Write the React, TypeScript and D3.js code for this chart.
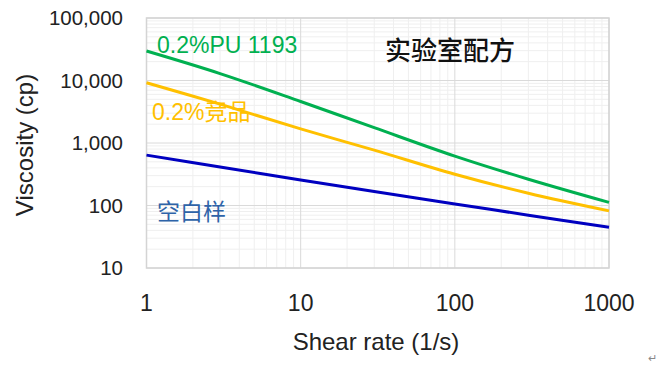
import React from "react";
import * as d3 from "d3";

// values (log–log chart)
const shearRates = [1, 3, 10, 30, 100, 300, 1000];
const pu1193 = [29600, 12900, 4620, 1760, 617, 263, 112];
const competitor = [9200, 4180, 1680, 770, 316, 157, 82];
const blank = [640, 412, 256, 167, 106, 70, 45];

const xTicks = [1, 10, 100, 1000];
const yTicks = [10, 100, 1000, 10000, 100000];

const seriesList = [
  { name: "0.2%PU 1193", values: pu1193, color: "#00b050", labelColor: "#00b050", lx: 157, ly: 53 },
  { name: "0.2%竞品", values: competitor, color: "#ffc000", labelColor: "#ffc000", lx: 152, ly: 120 },
  { name: "空白样", values: blank, color: "#0000c0", labelColor: "#2e63a8", lx: 157, ly: 220 },
];

const FONT = "'Liberation Sans', 'Noto Sans CJK SC', sans-serif";

const App = () => {
  const width = 666;
  const height = 369;
  const left = 146.5;
  const right = 609;
  const top = 18;
  const bottom = 268;

  const x = d3.scaleLog().domain([1, 1000]).range([left, right]);
  const y = d3.scaleLog().domain([10, 100000]).range([bottom, top]);

  // minor grid values 2..9 per decade
  const minorX: number[] = [];
  for (let d = 1; d < 1000; d *= 10) for (let k = 2; k <= 9; k++) minorX.push(d * k);
  const minorY: number[] = [];
  for (let d = 10; d < 100000; d *= 10) for (let k = 2; k <= 9; k++) minorY.push(d * k);

  const line = d3
    .line<number>()
    .x((_, i) => x(shearRates[i]))
    .y((d) => y(d))
    .curve(d3.curveCatmullRom.alpha(0.5));

  const fmt = d3.format(",");

  return (
    <svg
      width={width}
      height={height}
      style={{ position: "absolute", left: 0, top: 0, background: "#fff" }}
      fontFamily={FONT}
    >
      {/* minor grid */}
      {minorX.map((v) => (
        <line key={"mx" + v} x1={x(v)} x2={x(v)} y1={top} y2={bottom} stroke="#efefef" strokeWidth={1} />
      ))}
      {minorY.map((v) => (
        <line key={"my" + v} x1={left} x2={right} y1={y(v)} y2={y(v)} stroke="#efefef" strokeWidth={1} />
      ))}
      {/* major grid */}
      {xTicks.map((v) => (
        <line key={"gx" + v} x1={x(v)} x2={x(v)} y1={top} y2={bottom} stroke="#dadada" strokeWidth={1} />
      ))}
      {yTicks.map((v) => (
        <line key={"gy" + v} x1={left} x2={right} y1={y(v)} y2={y(v)} stroke="#dadada" strokeWidth={1} />
      ))}
      <rect x={left} y={top} width={right - left} height={bottom - top} fill="none" stroke="#d4d4d4" strokeWidth={1.5} />

      {/* series */}
      {seriesList.map((s) => (
        <path key={s.name} d={line(s.values) || ""} fill="none" stroke={s.color} strokeWidth={3} />
      ))}

      {/* y tick labels */}
      {yTicks.map((v) => (
        <text key={"ty" + v} x={123} y={y(v)} dy="0.36em" textAnchor="end" fontSize={20.5} fill="#222">
          {fmt(v)}
        </text>
      ))}
      {/* x tick labels */}
      {xTicks.map((v) => (
        <text key={"tx" + v} x={x(v)} y={311} textAnchor="middle" fontSize={23} fill="#222">
          {v}
        </text>
      ))}

      {/* axis titles */}
      <text x={376} y={350} textAnchor="middle" fontSize={24} fill="#222">
        Shear rate (1/s)
      </text>
      <text transform="translate(33,145) rotate(-90)" textAnchor="middle" fontSize={24} fill="#222">
        Viscosity (cp)
      </text>

      {/* chart title */}
      <text x={450} y={60} textAnchor="middle" fontSize={26} fontWeight={500} fill="#111">
        实验室配方
      </text>

      {/* series labels */}
      {seriesList.map((s) => (
        <text key={"l" + s.name} x={s.lx} y={s.ly} fontSize={23} fill={s.labelColor}>
          {s.name}
        </text>
      ))}

      <text x={648} y={362} fontSize={11} fill="#888">
        ↵
      </text>
    </svg>
  );
};

export default App;
